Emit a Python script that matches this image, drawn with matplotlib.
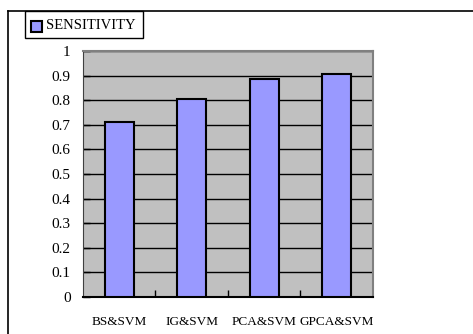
import matplotlib.pyplot as plt
from matplotlib.lines import Line2D
from matplotlib.patches import Rectangle

# sensitivity of each feature-selection + SVM combination
methods = ["BS&SVM", "IG&SVM", "PCA&SVM", "GPCA&SVM"]
sensitivity = [0.71, 0.805, 0.885, 0.905]
y_ticks = [0, 0.1, 0.2, 0.3, 0.4, 0.5, 0.6, 0.7, 0.8, 0.9, 1]
y_tick_labels = ["0", "0.1", "0.2", "0.3", "0.4", "0.5", "0.6", "0.7", "0.8", "0.9", "1"]

plt.rcParams["font.family"] = ["Liberation Serif", "DejaVu Serif"]

fig = plt.figure(figsize=(4.73, 3.34), dpi=100)
ax = fig.add_axes([0.1755, 0.1108, 0.613, 0.7365])
ax.set_facecolor("#C0C0C0")

x = list(range(len(methods)))
ax.bar(x, sensitivity, width=0.4, color="#9999FF", edgecolor="black",
       linewidth=1.5, zorder=3, label="SENSITIVITY")

ax.set_xlim(-0.5, len(methods) - 0.5)
ax.set_ylim(0, 1)
ax.set_yticks(y_ticks)
ax.set_yticklabels(y_tick_labels, fontsize=11)
ax.yaxis.grid(True, color="black", linewidth=1.0, zorder=1)
ax.tick_params(axis="y", direction="in", length=5, width=1, pad=9, colors="black")

# category labels in the middle, ticks on the boundaries
ax.set_xticks(x)
ax.set_xticklabels(methods, fontsize=9.5)
ax.tick_params(axis="x", which="major", length=0, pad=14)
ax.set_xticks([i + 0.5 for i in x[:-1]], minor=True)
ax.tick_params(axis="x", which="minor", direction="in", length=5, width=1, colors="black")

for side in ["top", "right"]:
    ax.spines[side].set_color("#808080")
    ax.spines[side].set_linewidth(1.5)
ax.spines["left"].set_color("#404040")
ax.spines["bottom"].set_color("black")
ax.spines["bottom"].set_linewidth(1.5)

# legend box in the top-left corner
fig.patches.append(Rectangle((25 / 473, 1 - 38 / 334), 118 / 473, 27 / 334,
                             transform=fig.transFigure, facecolor="white",
                             edgecolor="black", linewidth=1.0))
fig.patches.append(Rectangle((31 / 473, 1 - 31.5 / 334), 11 / 473, 11 / 334,
                             transform=fig.transFigure, facecolor="#9999FF",
                             edgecolor="black", linewidth=1.5))
fig.text(46 / 473, 1 - 25.5 / 334, "SENSITIVITY", fontsize=10.5, va="center", ha="left")

# chart frame
fig.lines.append(Line2D([8 / 473, 1], [1 - 10.5 / 334, 1 - 10.5 / 334],
                        transform=fig.transFigure, color="black", linewidth=1.2))
fig.lines.append(Line2D([8 / 473, 8 / 473], [0, 1 - 10.5 / 334],
                        transform=fig.transFigure, color="black", linewidth=1.2))

fig.savefig("out.png", dpi=100)
